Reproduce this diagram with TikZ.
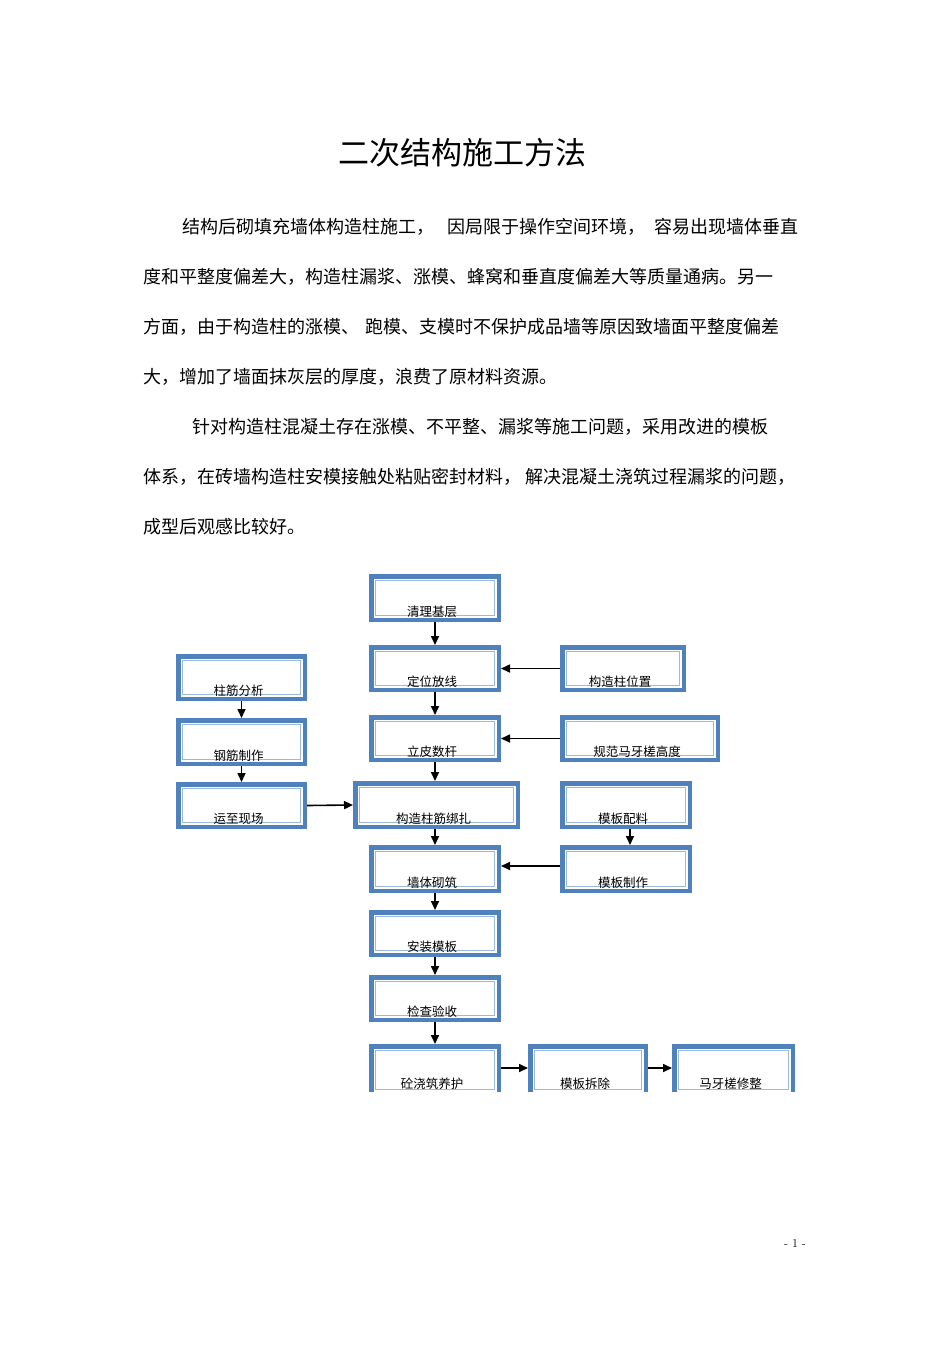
\documentclass[tikz,border=0pt]{standalone}
\usepackage{fontspec}
\newfontfamily\cjk{Noto Sans CJK SC}
\usetikzlibrary{arrows.meta}
\definecolor{boxblue}{RGB}{79,129,189}
\definecolor{lightblue}{RGB}{155,185,220}
\tikzset{
  box/.style={draw=boxblue, line width=4.5pt, fill=white, outer sep=2.25pt, inner sep=0pt},
  inbox/.style={draw=lightblue, line width=1.2pt},
  lbl/.style={font=\cjk\fontsize{12.5pt}{14pt}\selectfont, inner sep=0pt, xshift=-3pt},
  arr/.style={draw=black, line width=1.6pt, -{Triangle[length=9pt,width=8pt]}},
  body/.style={font=\cjk\fontsize{18pt}{20pt}\selectfont, anchor=west, inner sep=0pt},
}
\newcommand\flowbox[5]{%
  \node[box, minimum width=#4pt-4.5pt, minimum height=#5pt-4.5pt] (#1) at (#2,#3) {};
  \draw[inbox] ([shift={(6.5pt,-6.5pt)}]#1.north west) rectangle ([shift={(-6.5pt,6.5pt)}]#1.south east);
}
\begin{document}
\begin{tikzpicture}[x=1pt,y=-1pt]
\useasboundingbox[fill=white] (0,0) rectangle (950,1345);

% title
\node[font=\cjk\fontsize{31pt}{34pt}\selectfont, inner sep=0pt] (title) at (462,153) {二次结构施工方法};

% body text
\node[body] (l1) at (182,227) {结构后砌填充墙体构造柱施工，\hspace{13pt}因局限于操作空间环境，\hspace{9pt}容易出现墙体垂直};
\node[body] (l2) at (143,277) {度和平整度偏差大，构造柱漏浆、涨模、蜂窝和垂直度偏差大等质量通病。另一};
\node[body] (l3) at (143,327) {方面，由于构造柱的涨模、\hspace{6pt}跑模、支模时不保护成品墙等原因致墙面平整度偏差};
\node[body] (l4) at (143,377) {大，增加了墙面抹灰层的厚度，浪费了原材料资源。};
\node[body] (l5) at (192,427) {针对构造柱混凝土存在涨模、不平整、漏浆等施工问题，采用改进的模板};
\node[body] (l6) at (143,477) {体系，在砖墙构造柱安模接触处粘贴密封材料，\hspace{4pt}解决混凝土浇筑过程漏浆的问题，};
\node[body] (l7) at (143,527) {成型后观感比较好。};

% boxes
\flowbox{A}{435}{598}{132}{48}
\flowbox{B}{435}{668.5}{132}{47}
\flowbox{C}{623}{668.5}{126}{47}
\flowbox{D}{435}{738.5}{132}{47}
\flowbox{E}{640}{738.5}{160}{47}
\flowbox{F}{241.5}{677.5}{131}{47}
\flowbox{G}{241.5}{742}{131}{48}
\flowbox{H}{241.5}{805.5}{131}{47}
\flowbox{I}{436.5}{805}{167}{48}
\flowbox{J}{626}{805}{132}{48}
\flowbox{K}{435}{869}{132}{48}
\flowbox{L}{626}{869}{132}{48}
\flowbox{M}{435}{933.5}{132}{47}
\flowbox{N}{435}{998.5}{132}{47}
\begin{scope}
\clip (0,1000) rectangle (950,1091);
\flowbox{O}{435}{1070}{132}{52}
\flowbox{P}{588}{1070}{120}{52}
\flowbox{Q}{733.5}{1070}{123}{52}
\end{scope}

% labels
\node[lbl] (At) at ([yshift=10pt]A.south) {清理基层};
\node[lbl] (Bt) at ([yshift=10pt]B.south) {定位放线};
\node[lbl] (Ct) at ([yshift=10pt]C.south) {构造柱位置};
\node[lbl] (Dt) at ([yshift=10pt]D.south) {立皮数杆};
\node[lbl] (Et) at ([yshift=10pt]E.south) {规范马牙槎高度};
\node[lbl] (Ft) at ([yshift=10pt]F.south) {柱筋分析};
\node[lbl] (Gt) at ([yshift=10pt]G.south) {钢筋制作};
\node[lbl] (Ht) at ([yshift=10pt]H.south) {运至现场};
\node[lbl] (It) at ([yshift=10pt]I.south) {构造柱筋绑扎};
\node[lbl] (Jt) at ([yshift=10pt]J.south) {模板配料};
\node[lbl] (Kt) at ([yshift=10pt]K.south) {墙体砌筑};
\node[lbl] (Lt) at ([yshift=10pt]L.south) {模板制作};
\node[lbl] (Mt) at ([yshift=10pt]M.south) {安装模板};
\node[lbl] (Nt) at ([yshift=10pt]N.south) {检查验收};
\node[lbl] (Ot) at ([yshift=-14pt]O.center) {砼浇筑养护};
\node[lbl] (Pt) at ([yshift=-14pt]P.center) {模板拆除};
\node[lbl] (Qt) at ([yshift=-14pt]Q.center) {马牙槎修整};

% arrows
\draw[arr] (A.south) -- (B.north);
\draw[arr] (B.south) -- (D.north);
\draw[arr] (D.south) -- (D.south |- I.north);
\draw[arr] (D.south |- I.south) -- (K.north);
\draw[arr] (K.south) -- (M.north);
\draw[arr] (M.south) -- (N.north);
\draw[arr] (N.south) -- (O.north);
\draw[arr] (F.south) -- (G.north);
\draw[arr] (G.south) -- (H.north);
\draw[arr] ([xshift=4pt]J.south) -- ([xshift=4pt]L.north);
\draw[arr] (C.west) -- (B.east);
\draw[arr] (E.west) -- (D.east);
\draw[arr] (H.east) -- (I.west);
\draw[arr] ([yshift=3pt]L.west) -- ([yshift=3pt]K.east);
\draw[arr] ([yshift=2pt]O.east) -- ([yshift=2pt]P.west);
\draw[arr] ([yshift=2pt]P.east) -- ([yshift=2pt]Q.west);

% page number
\node[font=\fontsize{12pt}{14pt}\selectfont, inner sep=0pt] (pg) at (795,1243) {- 1 -};
\end{tikzpicture}
\end{document}
